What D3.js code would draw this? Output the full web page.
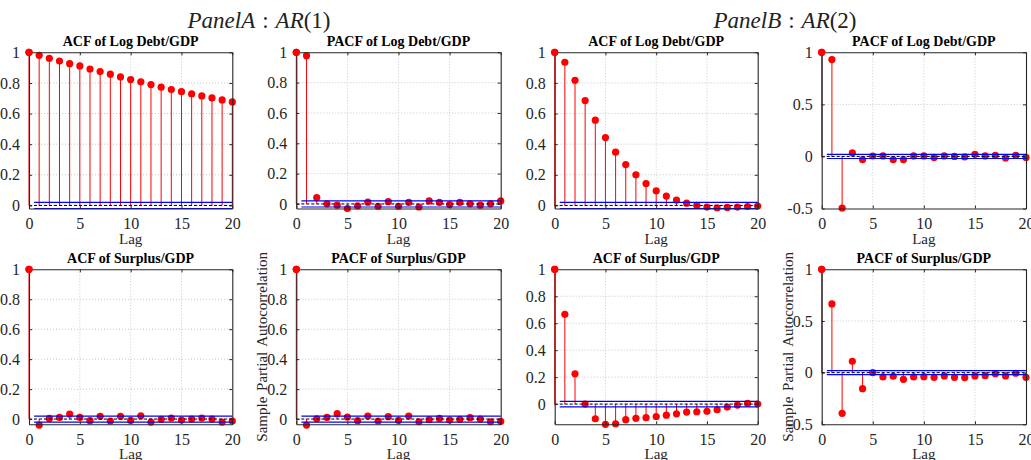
<!DOCTYPE html>
<html>
<head>
<meta charset="utf-8">
<script src="https://cdn.jsdelivr.net/npm/d3@7"></script>
<style>
  html, body { margin: 0; padding: 0; background: #fff; }
  svg { display: block; }
  text { font-family: "Liberation Serif", "Times New Roman", serif; }
</style>
</head>
<body>
<svg id="chart" width="1031" height="460"></svg>
<script>
// Lags shown on every correlogram
const lags = [0, 1, 2, 3, 4, 5, 6, 7, 8, 9, 10, 11, 12, 13, 14, 15, 16, 17, 18, 19, 20];
const lagTicks = [0, 5, 10, 15, 20];
const unitTicks = [0, 0.2, 0.4, 0.6, 0.8, 1];
const halfTicks = [-0.5, 0, 0.5, 1];

// Panel A: AR(1)
const acfDebtA = [1, 0.980, 0.961, 0.943, 0.926, 0.911, 0.891, 0.874, 0.857, 0.839, 0.822,
                  0.807, 0.789, 0.772, 0.757, 0.743, 0.728, 0.715, 0.702, 0.689, 0.676];
const pacfDebtA = [1, 0.978, 0.042, 0.001, -0.008, -0.030, -0.013, 0.012, -0.015, 0.015, -0.015,
                   0.010, -0.020, 0.020, 0.010, -0.004, 0.010, 0.001, -0.008, 0.001, 0.020];
const acfSurplusA = [1, -0.040, 0.004, 0.011, 0.033, 0.011, -0.011, 0.018, -0.013, 0.018, -0.009,
                     0.022, -0.020, -0.002, 0.007, -0.007, 0.000, 0.007, 0.000, -0.020, -0.013];
const pacfSurplusA = [1, -0.040, 0.002, 0.011, 0.036, 0.013, -0.011, 0.020, -0.013, 0.016, -0.009,
                      0.020, -0.018, -0.004, 0.004, -0.007, -0.002, 0.009, 0.000, -0.018, -0.016];

// Panel B: AR(2)
const acfDebtB = [1, 0.935, 0.817, 0.685, 0.557, 0.443, 0.348, 0.267, 0.200, 0.143, 0.096,
                  0.061, 0.035, 0.015, 0.000, -0.011, -0.015, -0.013, -0.011, -0.007, -0.004];
const pacfDebtB = [1, 0.930, -0.495, 0.035, -0.030, 0.004, 0.005, -0.030, -0.030, 0.005, 0.005,
                   -0.010, 0.005, 0.000, -0.005, 0.020, 0.005, 0.010, -0.015, 0.010, -0.010];
const acfSurplusB = [1, 0.666, 0.225, 0.000, -0.109, -0.150, -0.146, -0.116, -0.106, -0.101, -0.092,
                     -0.082, -0.072, -0.059, -0.057, -0.054, -0.042, -0.022, -0.007, 0.005, 0.000];
const pacfSurplusB = [1, 0.665, -0.394, 0.110, -0.155, 0.000, -0.042, -0.035, -0.065, -0.042, -0.039,
                      -0.045, -0.032, -0.045, -0.048, -0.032, -0.029, -0.010, -0.032, -0.006, -0.045];

// Approximate 2-standard-error confidence bound
const confBound = 0.02;

const titles = ["ACF of Log Debt/GDP", "PACF of Log Debt/GDP", "ACF of Surplus/GDP", "PACF of Surplus/GDP"];
const groupTitles = [
  { name: "Panel", letter: "A", model: "AR", order: "(1)" },
  { name: "Panel", letter: "B", model: "AR", order: "(2)" }
];

// ---- layout ----
const colX = [[29, 232.3], [296.3, 500.7], [554.7, 757.7], [821.7, 1026]];
const rowY = [[52.3, 208.5], [269.3, 424.3]];
const groupCenters = [259, 785];

const panels = [
  { col: 0, row: 0, title: titles[0], values: acfDebtA,     ymin: -0.02,  ticks: unitTicks, ylabel: false },
  { col: 1, row: 0, title: titles[1], values: pacfDebtA,    ymin: -0.03,  ticks: unitTicks, ylabel: false },
  { col: 2, row: 0, title: titles[0], values: acfDebtB,     ymin: -0.02,  ticks: unitTicks, ylabel: false },
  { col: 3, row: 0, title: titles[1], values: pacfDebtB,    ymin: -0.5,   ticks: halfTicks, ylabel: false },
  { col: 0, row: 1, title: titles[2], values: acfSurplusA,  ymin: -0.035, ticks: unitTicks, ylabel: false },
  { col: 1, row: 1, title: titles[3], values: pacfSurplusA, ymin: -0.035, ticks: unitTicks, ylabel: true },
  { col: 2, row: 1, title: titles[2], values: acfSurplusB,  ymin: -0.15,  ticks: unitTicks, ylabel: false },
  { col: 3, row: 1, title: titles[3], values: pacfSurplusB, ymin: -0.5,   ticks: halfTicks, ylabel: true }
];

const axisColor = "#262626";
const svg = d3.select("#chart");

// group headings: "PanelA : AR(1)"
groupTitles.forEach((g, i) => {
  const t = svg.append("text")
    .attr("x", groupCenters[i]).attr("y", 28)
    .attr("text-anchor", "middle")
    .attr("font-size", 23)
    .attr("fill", "#222");
  t.append("tspan").attr("font-style", "italic").text(g.name + g.letter);
  t.append("tspan").attr("dx", 7).text(":");
  t.append("tspan").attr("dx", 7).attr("font-style", "italic").text(g.model);
  t.append("tspan").text(g.order);
});

panels.forEach(p => {
  const [x0, x1] = colX[p.col];
  const [y0, y1] = rowY[p.row];
  const x = d3.scaleLinear().domain([0, 20]).range([x0, x1]);
  const y = d3.scaleLinear().domain([p.ymin, 1]).range([y1, y0]);
  const g = svg.append("g");

  // dotted grid
  g.append("g").selectAll("line").data(lagTicks.slice(1, -1)).join("line")
    .attr("x1", d => x(d)).attr("x2", d => x(d))
    .attr("y1", y0).attr("y2", y1)
    .attr("stroke", "#c8c8c8").attr("stroke-width", 1).attr("stroke-dasharray", "1,2");
  g.append("g").selectAll("line").data(p.ticks.filter(d => d > p.ymin && d < 1)).join("line")
    .attr("x1", x0).attr("x2", x1)
    .attr("y1", d => y(d)).attr("y2", d => y(d))
    .attr("stroke", "#c8c8c8").attr("stroke-width", 1).attr("stroke-dasharray", "1,2");

  // stems and markers
  const pts = lags.map((l, i) => ({ lag: l, v: p.values[i] }));
  g.append("g").selectAll("line").data(pts).join("line")
    .attr("x1", d => x(d.lag)).attr("x2", d => x(d.lag))
    .attr("y1", y(0)).attr("y2", d => y(d.v))
    .attr("stroke", "#ff0000").attr("stroke-width", 1);
  g.append("g").selectAll("circle").data(pts).join("circle")
    .attr("cx", d => x(d.lag)).attr("cy", d => y(d.v))
    .attr("r", 3.6).attr("fill", "#ff0000");

  // confidence bounds
  [confBound, -confBound].forEach(b => {
    g.append("line")
      .attr("x1", x(0.5)).attr("x2", x(20))
      .attr("y1", y(b)).attr("y2", y(b))
      .attr("stroke", "#0000ff").attr("stroke-width", 1.2);
  });

  // zero line
  g.append("line")
    .attr("x1", x0).attr("x2", x1)
    .attr("y1", y(0)).attr("y2", y(0))
    .attr("stroke", "#000").attr("stroke-width", 1).attr("stroke-dasharray", "3,2");

  // axes box with inward ticks
  const axB = d3.axisBottom(x).tickValues(lagTicks).tickSizeInner(-3).tickSizeOuter(0).tickPadding(9).tickFormat(d3.format("d"));
  const axT = d3.axisTop(x).tickValues(lagTicks).tickSizeInner(-3).tickSizeOuter(0).tickFormat("");
  const axL = d3.axisLeft(y).tickValues(p.ticks).tickSizeInner(-3).tickSizeOuter(0).tickPadding(9).tickFormat(d => String(d));
  const axR = d3.axisRight(y).tickValues(p.ticks).tickSizeInner(-3).tickSizeOuter(0).tickFormat("");

  const styleAxis = sel => {
    sel.attr("font-family", null);
    sel.select(".domain").attr("stroke", axisColor).attr("stroke-width", 1.1);
    sel.selectAll(".tick line").attr("stroke", axisColor);
    sel.selectAll(".tick text").attr("fill", axisColor).attr("font-size", 16);
  };
  g.append("g").attr("transform", `translate(0,${y1})`).call(axB).call(styleAxis);
  g.append("g").attr("transform", `translate(0,${y0})`).call(axT).call(styleAxis);
  g.append("g").attr("transform", `translate(${x0},0)`).call(axL).call(styleAxis);
  g.append("g").attr("transform", `translate(${x1},0)`).call(axR).call(styleAxis);

  // redraw markers sitting on the top spine
  g.append("g").selectAll("circle").data(pts.filter(d => d.v >= 0.999)).join("circle")
    .attr("cx", d => x(d.lag)).attr("cy", d => y(d.v))
    .attr("r", 3.6).attr("fill", "#ff0000");

  // subplot title
  g.append("text")
    .attr("x", (x0 + x1) / 2).attr("y", y0 - 6)
    .attr("text-anchor", "middle")
    .attr("font-weight", "bold").attr("font-size", 14)
    .attr("fill", "#000")
    .text(p.title);

  // x label
  g.append("text")
    .attr("x", (x0 + x1) / 2).attr("y", y1 + 35)
    .attr("text-anchor", "middle")
    .attr("font-size", 15).attr("fill", axisColor)
    .text("Lag");

  // y label
  if (p.ylabel) {
    g.append("text")
      .attr("transform", `translate(${x0 - 29},${(y0 + y1) / 2}) rotate(-90)`)
      .attr("text-anchor", "middle")
      .attr("font-size", 15).attr("fill", axisColor)
      .attr("word-spacing", 2)
      .text("Sample Partial Autocorrelation");
  }
});
</script>
</body>
</html>
